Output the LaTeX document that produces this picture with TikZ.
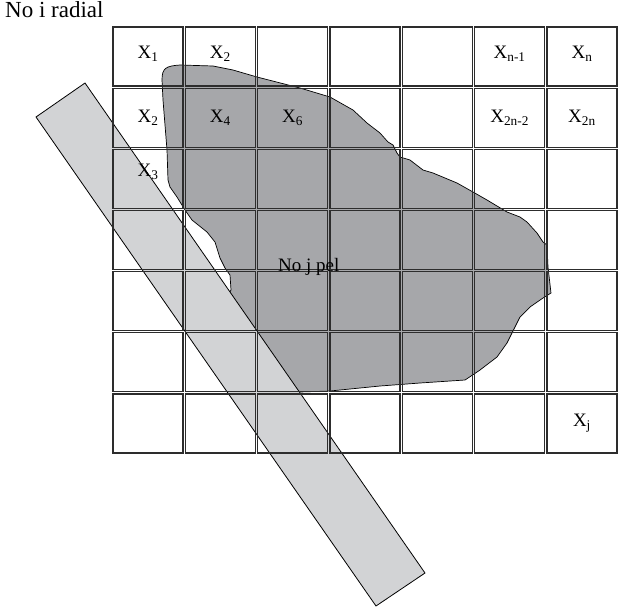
\documentclass[tikz,border=0pt]{standalone}
\usepackage{fontspec}
\setmainfont{Liberation Serif}
\usetikzlibrary{positioning}
\definecolor{blobgray}{RGB}{166,167,170}
\definecolor{stripgray}{RGB}{210,211,213}
\definecolor{gridline}{RGB}{45,45,45}

\begin{document}
\begin{tikzpicture}[x=1pt,y=-1pt,
    cell/.style={draw=gridline,line width=1.1pt,minimum width=70pt,minimum height=59pt,inner sep=0pt},
    lbl/.style={font=\fontsize{19}{22}\selectfont,inner sep=0pt}]
  \useasboundingbox (0,0) rectangle (622,614);
  % pixel region
  \filldraw[fill=blobgray,draw=black,line width=.7pt]
    (163,100) -- (162,80) .. controls (162,68) and (166,66) .. (180,65) -- (213,66) -- (233,70)
    -- (257,77) -- (300,88) -- (330,97) -- (353,110) -- (367,123) -- (380,133) -- (388,142)
    -- (393,145) -- (397,153) -- (400,157) -- (410,160) -- (423,170) -- (433,173) -- (457,183)
    -- (473,192) -- (487,200) -- (497,206) -- (507,212) -- (520,217) -- (527,222) -- (537,233)
    -- (543,242) -- (547,245) -- (548,267) -- (551,293) -- (543,298) -- (530,307) -- (520,317)
    -- (515,327) -- (512,333) -- (507,343) -- (497,357) -- (480,370) -- (465,380) -- (420,383)
    -- (380,386) -- (330,391) -- (300,392) -- (280,380) -- (225,300) -- (231,290) -- (230,275)
    -- (225,268) -- (220,258) -- (215,242) -- (207,232) -- (192,220) -- (185,210) -- (177,197)
    -- (170,187) -- (168,180) -- (167,150) -- cycle;
  % radial strip
  \filldraw[fill=stripgray,draw=black,line width=.8pt] (85,83) -- (36,117) -- (376,606) -- (425,573) -- cycle;
  \foreach \r in {1,...,7}
    \foreach \c in {1,...,7}
      \node[cell] (c\r\c) at ({148+72.33*(\c-1)},{56.5+61.17*(\r-1)}) {};
  \node[lbl] (x1) at ([yshift=3pt]c11) {X\textsubscript{1}};
  \node[lbl] (x2) at ([yshift=3pt]c12) {X\textsubscript{2}};
  \node[lbl] (xn1) at ([yshift=3pt]c16) {X\textsubscript{n-1}};
  \node[lbl] (xn) at ([yshift=3pt]c17) {X\textsubscript{n}};
  \node[lbl] (x2b) at (c21) {X\textsubscript{2}};
  \node[lbl] (x4) at (c22) {X\textsubscript{4}};
  \node[lbl] (x6) at (c23) {X\textsubscript{6}};
  \node[lbl] (x2n2) at (c26) {X\textsubscript{2n-2}};
  \node[lbl] (x2n) at (c27) {X\textsubscript{2n}};
  \node[lbl] (x3) at ([yshift=7pt]c31) {X\textsubscript{3}};
  \node[lbl] (xj) at (c77) {X\textsubscript{j}};
  \node[lbl,font=\fontsize{23}{26}\selectfont,anchor=base west] (radial) at (5,17) {No i radial};
  \node[lbl,anchor=base west] (pel) at (278,271) {No j pel};
\end{tikzpicture}
\end{document}
